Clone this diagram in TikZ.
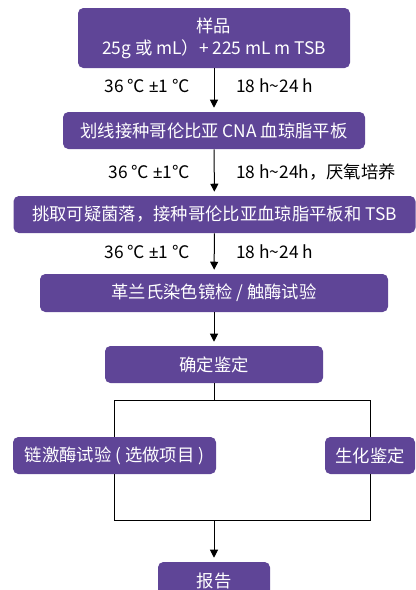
\documentclass[tikz,border=0pt]{standalone}
\usepackage{fontspec}
\setmainfont{Noto Sans CJK SC}
\newfontfamily\latinfont{Noto Sans}
\usepackage{xcolor}
\usepackage{tikz}
\usetikzlibrary{arrows.meta, positioning, calc}
\definecolor{boxpurple}{HTML}{5F4597}
\newcommand{\pmsign}{{\latinfont ±}}
\tikzset{
    box/.style={rectangle, rounded corners=4pt, fill=boxpurple, text=white, minimum height=27.75pt, inner sep=0pt, align=center, font=\fontsize{13pt}{16.5pt}\selectfont},
    cond/.style={inner sep=0pt, font=\fontsize{13pt}{16.5pt}\selectfont},
    arrow/.style={line width=0.75pt, -{Triangle[width=6pt,length=6pt]}, shorten >=3pt},
    link/.style={line width=0.75pt}
}
\begin{document}
\begin{tikzpicture}[x=0.75pt, y=-0.75pt]
    \useasboundingbox (0,0) rectangle (416,590);
    % main steps
    \node (sample) [box, minimum width=204pt, minimum height=45pt] at (214,38) {样品\\25g 或 mL）+ 225 mL m TSB};
    \node (streak) [box, minimum width=226.5pt] at (214,130.5) {划线接种哥伦比亚 CNA 血琼脂平板};
    \node (pick) [box, minimum width=301.5pt] at (214.5,214.5) {挑取可疑菌落，接种哥伦比亚血琼脂平板和 TSB};
    \node (gram) [box, minimum width=261pt, minimum height=28.5pt] at (214,293) {革兰氏染色镜检 / 触酶试验};
    \node (confirm) [box, minimum width=163.5pt] at (214,364.5) {确定鉴定};
    \node (chain) [box, minimum width=152.25pt] at (114.5,455.5) {链激酶试验 ( 选做项目 )};
    \node (biochem) [box, minimum width=67.5pt] at (370,455.5) {生化鉴定};
    \node (report) [box, minimum width=84pt] at (214,580.5) {报告};

    % incubation conditions
    \node (t1) [cond, anchor=east] at (190,86) {36 ℃ \pmsign1 ℃};
    \node (h1) [cond, anchor=west] at (236,86) {18 h\textasciitilde 24 h};
    \node (t2) [cond, anchor=east] at (190,172) {36 ℃ \pmsign1℃};
    \node (h2) [cond, anchor=west] at (236,172) {18 h\textasciitilde 24h，厌氧培养};
    \node (t3) [cond, anchor=east] at (190,252) {36 ℃ \pmsign1 ℃};
    \node (h3) [cond, anchor=west] at (236,252) {18 h\textasciitilde 24 h};

    \coordinate (split) at (214,400);
    \coordinate (join) at (214,520);

    \draw [arrow] (sample) -- (streak);
    \draw [arrow] (streak) -- (pick);
    \draw [arrow] (pick) -- (gram);
    \draw [arrow] (gram) -- (confirm);
    \draw [link] (confirm) -- (split);
    \draw [link] (split) -| (chain);
    \draw [link] (split) -| (biochem);
    \draw [link] (chain) |- (join);
    \draw [link] (biochem) |- (join);
    \draw [arrow] (join) -- (report);
\end{tikzpicture}
\end{document}
